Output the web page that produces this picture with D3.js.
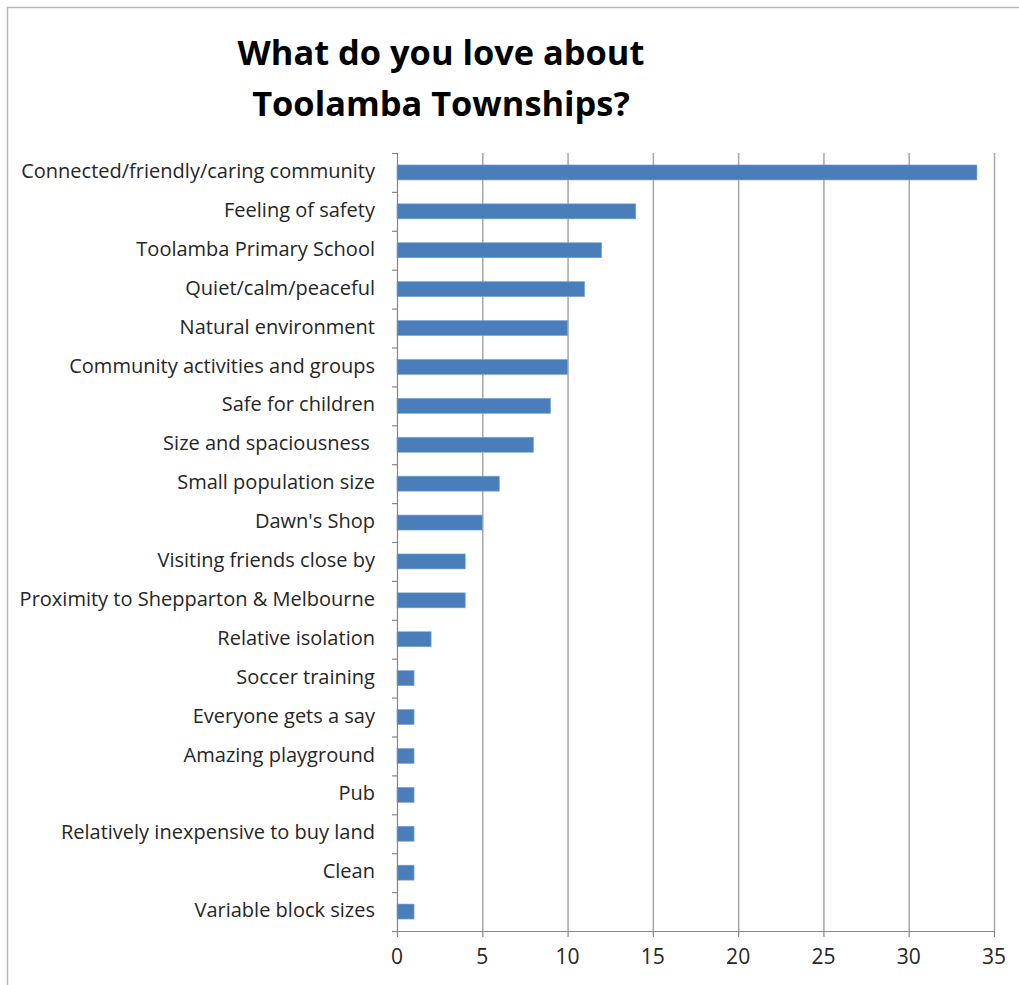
<!DOCTYPE html>
<html>
<head>
<meta charset="utf-8">
<script src="https://cdn.jsdelivr.net/npm/d3@7"></script>
<style>
  html, body { margin: 0; padding: 0; background: #fff; }
  svg { display: block; }
  text { font-family: "Open Sans", Lato, sans-serif; }
</style>
</head>
<body>
<svg id="chart" width="1019" height="985"></svg>
<script>
const categories = [
  "Connected/friendly/caring community",
  "Feeling of safety",
  "Toolamba Primary School",
  "Quiet/calm/peaceful",
  "Natural environment",
  "Community activities and groups",
  "Safe for children",
  "Size and spaciousness ",
  "Small population size",
  "Dawn's Shop",
  "Visiting friends close by",
  "Proximity to Shepparton & Melbourne",
  "Relative isolation",
  "Soccer training",
  "Everyone gets a say",
  "Amazing playground",
  "Pub",
  "Relatively inexpensive to buy land",
  "Clean",
  "Variable block sizes"
];
const values = [34, 14, 12, 11, 10, 10, 9, 8, 6, 5, 4, 4, 2, 1, 1, 1, 1, 1, 1, 1];
const xTicks = [0, 5, 10, 15, 20, 25, 30, 35];
const titleLines = ["What do you love about", "Toolamba Townships?"];

const svg = d3.select("#chart");
const W = 1019, H = 985;

// outer chart border (cut at right and bottom)
svg.append("path")
  .attr("d", `M7.5,${H + 2} V7.5 H${W + 2}`)
  .attr("fill", "none")
  .attr("stroke", "#b8b8b8")
  .attr("stroke-width", 1.5);

const plot = { left: 397, right: 994, top: 153, bottom: 931 };

const x = d3.scaleLinear().domain([0, 35]).range([plot.left, plot.right]);
const yb = d3.scaleBand().domain(categories).range([plot.top, plot.bottom]);

// gridlines
svg.append("g").selectAll("line")
  .data(xTicks.filter(d => d > 0))
  .join("line")
  .attr("x1", d => x(d) + 0.5).attr("x2", d => x(d) + 0.5)
  .attr("y1", plot.top).attr("y2", plot.bottom)
  .attr("stroke", "#a6a6a6").attr("stroke-width", 1.5);

// bars
svg.append("g").selectAll("rect")
  .data(values)
  .join("rect")
  .attr("x", x(0))
  .attr("y", (d, i) => yb(categories[i]) + (yb.bandwidth() - 15) / 2)
  .attr("width", d => x(d) - x(0))
  .attr("height", 15)
  .attr("fill", "#4a7ebb")
  .attr("stroke", "#7fa3d3")
  .attr("stroke-width", 0.6);

// y axis (category) line + ticks at band boundaries
const yAxisG = svg.append("g");
yAxisG.append("line")
  .attr("x1", plot.left + 0.5).attr("x2", plot.left + 0.5)
  .attr("y1", plot.top).attr("y2", plot.bottom)
  .attr("stroke", "#868686").attr("stroke-width", 1.2);
const boundaries = categories.map(c => yb(c)).concat([plot.bottom]);
yAxisG.selectAll("line.tk")
  .data(boundaries)
  .join("line")
  .attr("class", "tk")
  .attr("x1", plot.left - 5).attr("x2", plot.left)
  .attr("y1", d => d + 0.5).attr("y2", d => d + 0.5)
  .attr("stroke", "#868686").attr("stroke-width", 1.2);

// category labels
const labels = yAxisG.selectAll("text")
  .data(categories)
  .join("text")
  .attr("x", 375)
  .attr("y", d => yb(d) + yb.bandwidth() / 2)
  .attr("dy", "0.28em")
  .attr("text-anchor", "end")
  .attr("font-size", 18)
  .attr("fill", "#262626")
  .style("white-space", "pre")
  .attr("xml:space", "preserve")
  .text(d => d);
// fit font size so the longest label spans the reference width
const w0 = labels.nodes()[0].getComputedTextLength();
const labelSize = 18 * 354 / w0;
labels.attr("font-size", labelSize);

// x axis
const xAxisG = svg.append("g");
xAxisG.append("line")
  .attr("x1", plot.left - 5).attr("x2", plot.right)
  .attr("y1", plot.bottom + 0.5).attr("y2", plot.bottom + 0.5)
  .attr("stroke", "#868686").attr("stroke-width", 1.2);
xAxisG.selectAll("line.tk")
  .data(xTicks)
  .join("line")
  .attr("class", "tk")
  .attr("x1", d => x(d) + 0.5).attr("x2", d => x(d) + 0.5)
  .attr("y1", plot.bottom).attr("y2", plot.bottom + 6)
  .attr("stroke", "#868686").attr("stroke-width", 1.2);
xAxisG.selectAll("text")
  .data(xTicks)
  .join("text")
  .attr("x", d => x(d))
  .attr("y", 964)
  .attr("text-anchor", "middle")
  .attr("font-size", labelSize * 1.05)
  .attr("fill", "#262626")
  .text(d => d);

// title
const title = svg.append("g").selectAll("text")
  .data(titleLines)
  .join("text")
  .attr("x", 441)
  .attr("y", (d, i) => 65 + i * 51)
  .attr("text-anchor", "middle")
  .attr("font-size", 35)
  .attr("font-weight", "bold")
  .attr("fill", "#000")
  .text(d => d);
const tw = title.nodes()[0].getComputedTextLength();
title.attr("font-size", 35 * 407 / tw);
</script>
</body>
</html>
